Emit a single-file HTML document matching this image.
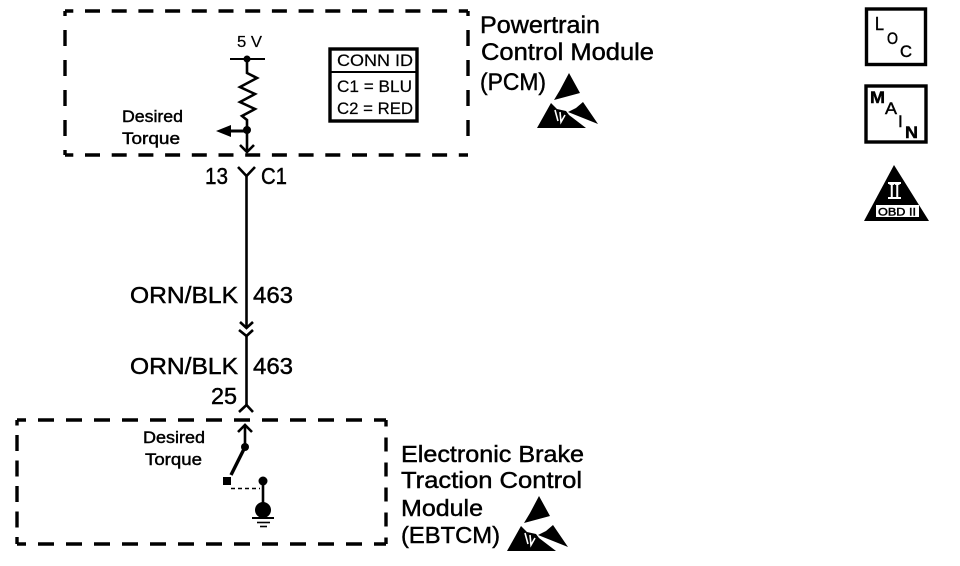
<!DOCTYPE html>
<html>
<head>
<meta charset="utf-8">
<title>Diagram</title>
<style>
html,body{margin:0;padding:0;background:#fff;width:960px;height:566px;overflow:hidden}
svg{display:block}
text{font-family:"Liberation Sans",sans-serif;fill:#000;stroke:#000;stroke-width:.45}
.d{fill:none;stroke:#000;stroke-width:3.4}
.w{fill:none;stroke:#000;stroke-width:2.6}
</style>
</head>
<body>
<svg width="960" height="566" viewBox="0 0 960 566" xmlns="http://www.w3.org/2000/svg">
<defs>
<g id="esd">
<polygon points="569,73 580,93 554,100 560,90" fill="#000"/>
<polygon points="537,128 551,103 557,109 566,111 569,115 586,128" fill="#000"/>
<polygon points="583,102 598,124 568,112 576,108" fill="#000"/>
<path d="M555,110 l3,11 M560,112 l1,10 l4,-7" stroke="#fff" stroke-width="1.6" fill="none"/>
</g>
</defs>

<!-- PCM module box -->
<line class="d" x1="65" y1="11" x2="468" y2="11" stroke-dasharray="15 11.7" stroke-dashoffset="6.7"/>
<line class="d" x1="65" y1="155" x2="468" y2="155" stroke-dasharray="15 11.7" stroke-dashoffset="6.7"/>
<line class="d" x1="65" y1="11" x2="65" y2="155" stroke-dasharray="16 14" stroke-dashoffset="11"/>
<line class="d" x1="468" y1="11" x2="468" y2="150" stroke-dasharray="16 14" stroke-dashoffset="11"/>

<!-- EBTCM module box -->
<line class="d" x1="17" y1="420" x2="386" y2="420" stroke-dasharray="16 12" stroke-dashoffset="7"/>
<line class="d" x1="17" y1="544" x2="386" y2="544" stroke-dasharray="16 12" stroke-dashoffset="7"/>
<line class="d" x1="17" y1="420" x2="17" y2="544" stroke-dasharray="16 9.5" stroke-dashoffset="10.5"/>
<line class="d" x1="386" y1="420" x2="386" y2="544" stroke-dasharray="14 11" stroke-dashoffset="7.5"/>

<!-- PCM circuit -->
<text x="237" y="47" font-size="16" textLength="25" lengthAdjust="spacingAndGlyphs" style="stroke-width:.2">5 V</text>
<line x1="230" y1="59" x2="265" y2="59" stroke="#000" stroke-width="2"/>
<circle cx="247" cy="59" r="3.5" fill="#000"/>
<polyline class="w" points="247,59 247,73 257,78 240,87 255,94 240,102 255,109 242,116 247,120 247,152"/>
<circle cx="247" cy="130" r="4" fill="#000"/>
<line x1="247" y1="131" x2="228" y2="131" stroke="#000" stroke-width="3"/>
<polygon points="216,131 231,125 231,137" fill="#000"/>
<polyline class="w" points="240,145 247,152 254,145"/>
<text x="122" y="122" font-size="17" textLength="61" lengthAdjust="spacingAndGlyphs">Desired</text>
<text x="122" y="144" font-size="17" textLength="58" lengthAdjust="spacingAndGlyphs">Torque</text>

<!-- CONN ID -->
<rect x="330" y="49" width="87" height="72" fill="#fff" stroke="#000" stroke-width="3.4"/>
<line x1="330" y1="72" x2="417" y2="72" stroke="#000" stroke-width="2"/>
<text x="337" y="66" font-size="17" textLength="76" lengthAdjust="spacingAndGlyphs" style="stroke-width:.2">CONN ID</text>
<text x="337" y="92" font-size="17" textLength="75" lengthAdjust="spacingAndGlyphs" style="stroke-width:.2">C1 = BLU</text>
<text x="337" y="114" font-size="17" textLength="76" lengthAdjust="spacingAndGlyphs" style="stroke-width:.2">C2 = RED</text>

<!-- PCM label -->
<text x="480" y="33" font-size="24" textLength="120" lengthAdjust="spacingAndGlyphs">Powertrain</text>
<text x="481" y="60" font-size="24" textLength="173" lengthAdjust="spacingAndGlyphs">Control Module</text>
<text x="480" y="90" font-size="24" textLength="66" lengthAdjust="spacingAndGlyphs">(PCM)</text>
<use href="#esd"/>

<!-- wire -->
<text x="205" y="184" font-size="23" textLength="23" lengthAdjust="spacingAndGlyphs">13</text>
<text x="261" y="184" font-size="23" textLength="26" lengthAdjust="spacingAndGlyphs">C1</text>
<polyline class="w" points="238,167 246.5,176 255,167"/>
<line class="w" x1="246.5" y1="175" x2="246.5" y2="327"/>
<polyline class="w" points="240,322 246.5,328 253,322"/>
<polyline class="w" points="239,330 246.5,336 253,330"/>
<line class="w" x1="246.5" y1="336" x2="246.5" y2="405"/>
<polyline class="w" points="239,412 246.5,405 253,412"/>
<text x="130" y="303" font-size="23" textLength="108" lengthAdjust="spacingAndGlyphs">ORN/BLK</text>
<text x="253" y="303" font-size="23" textLength="40" lengthAdjust="spacingAndGlyphs">463</text>
<text x="130" y="374" font-size="23" textLength="108" lengthAdjust="spacingAndGlyphs">ORN/BLK</text>
<text x="253" y="374" font-size="23" textLength="40" lengthAdjust="spacingAndGlyphs">463</text>
<text x="211" y="404" font-size="23" textLength="26" lengthAdjust="spacingAndGlyphs">25</text>

<!-- EBTCM circuit -->
<polyline class="w" points="238,432 245,425 252,432"/>
<line class="w" x1="245" y1="426" x2="245" y2="447"/>
<circle cx="245" cy="447" r="4" fill="#000"/>
<line x1="245" y1="447" x2="231" y2="475" stroke="#000" stroke-width="3.4"/>
<rect x="223" y="477" width="8" height="8" fill="#000"/>
<circle cx="263" cy="481" r="4.5" fill="#000"/>
<line x1="231" y1="488.5" x2="260" y2="488.5" stroke="#000" stroke-width="1.4" stroke-dasharray="4 3"/>
<line class="w" x1="263" y1="481" x2="263" y2="506"/>
<circle cx="263" cy="510" r="8" fill="#000"/>
<line x1="252" y1="518" x2="274" y2="518" stroke="#000" stroke-width="2"/>
<line x1="257" y1="522.5" x2="270" y2="522.5" stroke="#000" stroke-width="1.6"/>
<line x1="260" y1="526.5" x2="267" y2="526.5" stroke="#000" stroke-width="1.6"/>
<text x="143" y="443" font-size="17" textLength="62" lengthAdjust="spacingAndGlyphs">Desired</text>
<text x="145" y="465" font-size="17" textLength="57" lengthAdjust="spacingAndGlyphs">Torque</text>

<!-- EBTCM label -->
<text x="401" y="462" font-size="23" textLength="183" lengthAdjust="spacingAndGlyphs">Electronic Brake</text>
<text x="401" y="488" font-size="23" textLength="181" lengthAdjust="spacingAndGlyphs">Traction Control</text>
<text x="401" y="516" font-size="23" textLength="82" lengthAdjust="spacingAndGlyphs">Module</text>
<text x="401" y="543" font-size="23" textLength="99" lengthAdjust="spacingAndGlyphs">(EBTCM)</text>
<use href="#esd" transform="translate(-30,423)"/>

<!-- LOC -->
<rect x="866.5" y="9" width="59" height="55.5" fill="#fff" stroke="#000" stroke-width="3.4"/>
<text x="875" y="30" font-size="18" textLength="9" lengthAdjust="spacingAndGlyphs">L</text>
<text x="887" y="44" font-size="17" textLength="11" lengthAdjust="spacingAndGlyphs">O</text>
<text x="900" y="57" font-size="17" textLength="12" lengthAdjust="spacingAndGlyphs">C</text>

<!-- MAIN -->
<rect x="866" y="86" width="60" height="56" fill="#fff" stroke="#000" stroke-width="3.4"/>
<text x="870" y="103" font-size="17" font-weight="bold" textLength="15" lengthAdjust="spacingAndGlyphs">M</text>
<text x="885" y="114" font-size="17" textLength="12" lengthAdjust="spacingAndGlyphs">A</text>
<text x="898" y="127" font-size="17">I</text>
<text x="905" y="138" font-size="17" font-weight="bold" textLength="13" lengthAdjust="spacingAndGlyphs">N</text>

<!-- OBD II -->
<polygon points="894,165 929,221 864,221" fill="#000"/>
<text x="889" y="198" font-size="21" textLength="11" lengthAdjust="spacingAndGlyphs" style="font-family:'Liberation Serif',serif;fill:#fff;stroke:#fff">II</text>
<rect x="888" y="182" width="13" height="2" fill="#fff"/>
<rect x="888" y="197" width="13" height="2" fill="#fff"/>
<rect x="876" y="205" width="43" height="12" fill="#fff"/>
<text x="878" y="215.5" font-size="11" textLength="38" lengthAdjust="spacingAndGlyphs">OBD II</text>
</svg>
</body>
</html>
